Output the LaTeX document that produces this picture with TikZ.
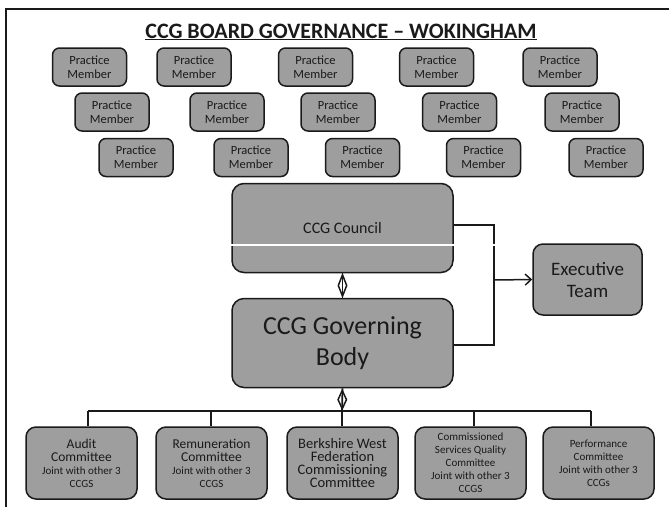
\documentclass[tikz,border=0pt]{standalone}
\usepackage{fontspec}
\setmainfont{Carlito}
\usetikzlibrary{shapes.geometric,arrows.meta}
\definecolor{boxgray}{HTML}{9E9E9E}
\definecolor{inkc}{HTML}{1A1A1A}
\newcommand\cbig{\fontsize{13.5}{15.5}\selectfont}
\newcommand\cbigger{\fontsize{14.5}{16}\selectfont}
\newcommand\csml{\fontsize{11}{13}\selectfont}
\begin{document}
\begin{tikzpicture}[x=1pt,y=-1pt,
  box/.style={draw=inkc, line width=1.5pt, fill=boxgray, rounded corners=7pt, inner sep=0pt, align=center, text=inkc},
  pm/.style={box, minimum width=74pt, minimum height=38pt, font=\fontsize{12.5}{14}\selectfont},
  bigbox/.style={box, rounded corners=12pt, minimum width=221pt, minimum height=89pt},
  exbox/.style={box, rounded corners=10pt, minimum width=109pt, minimum height=71pt, font=\fontsize{19}{22}\selectfont},
  cbox/.style={box, rounded corners=10pt, minimum width=111pt, minimum height=72pt, font=\csml},
  link/.style={draw=inkc, line width=1.7pt},
  dmark/.style={diamond, draw=inkc, line width=1.5pt, minimum width=9pt, inner sep=0pt}
]
\useasboundingbox (0,0) rectangle (669,507);
\fill[white] (0,0) rectangle (669,507);
% frame
\draw[inkc, line width=1.5pt] (669,9) -- (6,9) -- (6,507);
% title
\node[anchor=base, font=\bfseries\fontsize{22}{25}\selectfont, text=inkc] (title) at (341,38) {\underline{CCG BOARD GOVERNANCE – WOKINGHAM}};
% practice members
\foreach \x [count=\i] in {89.5,194,315.5,436.5,560}
  \node[pm] (pa\i) at (\x,67) {Practice\\Member};
\foreach \x [count=\i] in {112,227,338,459.5,582}
  \node[pm] (pb\i) at (\x,112) {Practice\\Member};
\foreach \x [count=\i] in {136,251,362.5,483.5,606}
  \node[pm] (pc\i) at (\x,157.5) {Practice\\Member};
% main boxes
\node[bigbox, font=\fontsize{16}{19}\selectfont] (council) at (342.5,228) {CCG Council};
\node[bigbox, font=\fontsize{26}{31}\selectfont] (gb) at (342.5,343) {CCG Governing\\Body};
\node[exbox] (exec) at (587.5,279.5) {Executive\\Team};
% committees
\node[cbox] (c1) at (81.5,463) {\cbig Audit\\\cbig Committee\\\csml Joint with other 3\\\csml CCGS};
\node[cbox] (c2) at (211.5,463) {\cbig Remuneration\\\cbig Committee\\\csml Joint with other 3\\\csml CCGS};
\node[cbox] (c3) at (342.5,463) {\cbigger Berkshire West\\\cbigger Federation\\\cbigger Commissioning\\\cbigger Committee};
\node[cbox] (c4) at (470.5,463) {Commissioned\\Services Quality\\Committee\\Joint with other 3\\CCGS};
\node[cbox] (c5) at (598.5,463) {Performance\\Committee\\Joint with other 3\\CCGs};
% council - governing body
\draw[link] (council.south) -- (gb.north) node[dmark, midway, minimum height=22pt] (d1) {};
% council/gb to executive
\coordinate (jt) at (494,225);
\coordinate (jb) at (494,345);
\coordinate (jm) at (494,280);
\draw[link] ([yshift=3pt]council.east) -- (jt) -- (jb) -- ([yshift=-2pt]gb.east);
\draw[link, line width=1.5pt, -{Straight Barb[length=6pt,width=11pt]}] (jm) -- (exec.west);
% scan artifact line
\draw[white, line width=1.1pt] (229,245) -- (498,245);
% governing body to committees
\coordinate (bus) at (342,411);
\draw[link] (gb.south) -- (bus) node[dmark, midway, minimum height=19pt] (d2) {};
\coordinate (bl) at (88,411);
\coordinate (br) at (591,411);
\draw[link] (bl) -- (br);
\draw[link] (bl) -- (bl |- c1.north);
\coordinate (b2) at (211,411);
\draw[link] (b2) -- (b2 |- c2.north);
\draw[link] (bus) -- (bus |- c3.north);
\coordinate (b4) at (474,411);
\draw[link] (b4) -- (b4 |- c4.north);
\draw[link] (br) -- (br |- c5.north);
\end{tikzpicture}
\end{document}
